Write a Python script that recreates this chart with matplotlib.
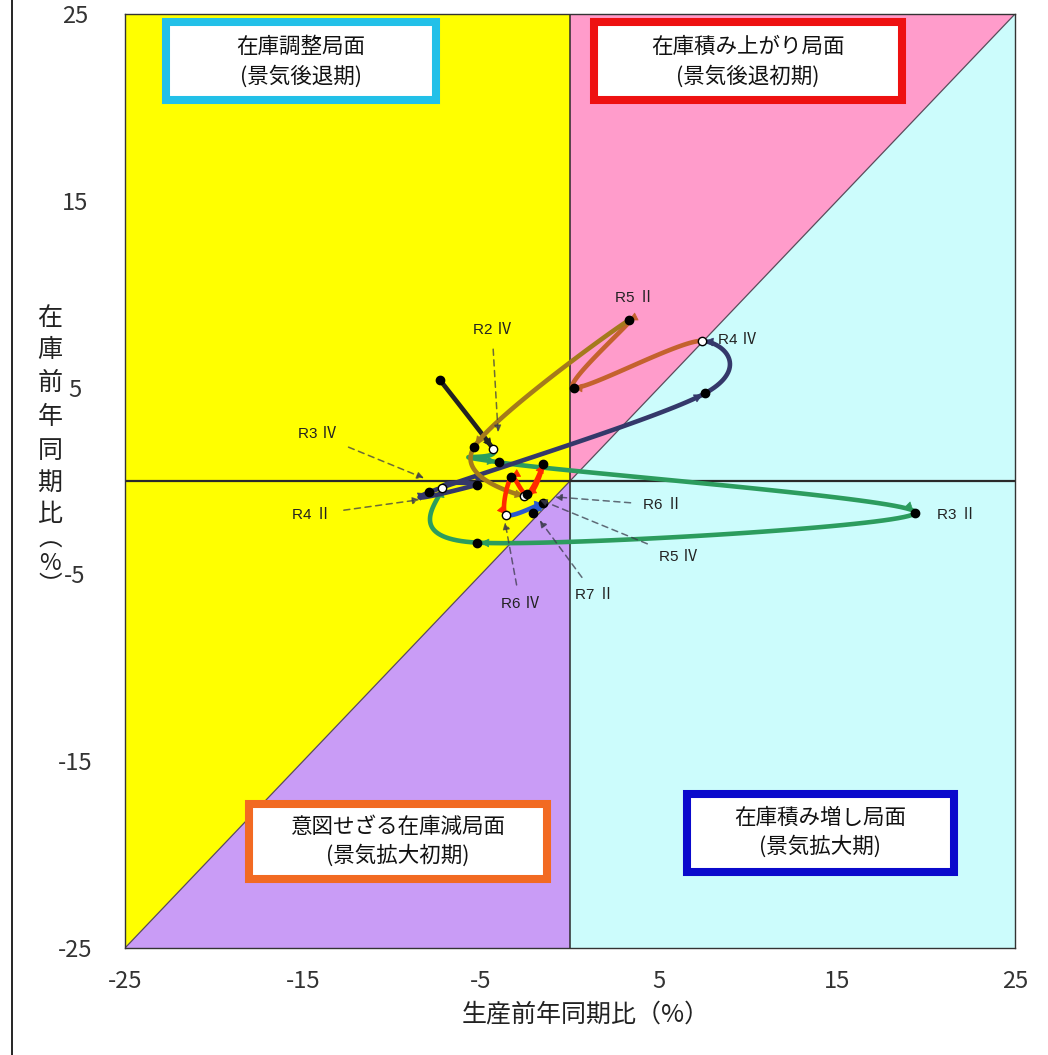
import numpy as np
import matplotlib
matplotlib.use("Agg")
import matplotlib.pyplot as plt
from matplotlib.patches import Polygon, Rectangle
from matplotlib.lines import Line2D

plt.rcParams['font.family'] = ['Noto Sans CJK JP', 'DejaVu Sans']

# ---- data ----
quarters = ["R2Ⅲ", "R2Ⅳ", "R3Ⅰ", "R3Ⅱ", "R3Ⅲ", "R3Ⅳ", "R4Ⅰ", "R4Ⅱ", "R4Ⅲ", "R4Ⅳ",
            "R5Ⅰ", "R5Ⅱ", "R5Ⅲ", "R5Ⅳ", "R6Ⅰ", "R6Ⅱ", "R6Ⅲ", "R6Ⅳ", "R7Ⅰ", "R7Ⅱ"]
production = [-7.3, -4.3, -4.0, 19.4, -5.2, -7.2, -5.2, -7.9, 7.6, 7.4,
              0.2, 3.3, -5.4, -2.6, -1.5, -2.4, -3.3, -3.6, -1.5, -2.1]
inventory = [5.4, 1.7, 1.0, -1.7, -3.3, -0.4, -0.2, -0.6, 4.7, 7.5,
             5.0, 8.6, 1.8, -0.8, 0.9, -0.7, 0.2, -1.8, -1.2, -1.7]
ticks = [-25, -15, -5, 5, 15, 25]

phase_titles = ["在庫調整局面", "在庫積み上がり局面", "意図せざる在庫減局面", "在庫積み増し局面"]
phase_subtitles = ["(景気後退期)", "(景気後退初期)", "(景気拡大初期)", "(景気拡大期)"]

# ---- styles ----
C_BLACK, C_GREEN, C_NAVY, C_SIENNA, C_BROWN, C_RED, C_BLUE = (
    '#222222', '#2C9C5E', '#34386A', '#C4622E', '#A47A1C', '#FF2A00', '#2A5AD0')
seg_colors = ([C_BLACK] + [C_GREEN] * 4 + [C_NAVY] * 4 + [C_SIENNA] * 2 +
              [C_BROWN] * 2 + [C_RED] * 4 + [C_BLUE] * 2)

W, H = 1048, 1055
fig = plt.figure(figsize=(W / 100, H / 100), dpi=100)
ax = fig.add_axes([125 / W, 1 - 948 / H, 890 / W, 934 / H])
ax.set_xlim(-25, 25)
ax.set_ylim(-25, 25)

# background regions
ax.add_patch(Polygon([(-25, -25), (-25, 25), (0, 25), (0, 0)], closed=True, fc='#FFFF00', ec='none', zorder=0))
ax.add_patch(Polygon([(-25, -25), (0, 0), (0, -25)], closed=True, fc='#C99CF6', ec='none', zorder=0))
ax.add_patch(Polygon([(0, 0), (0, 25), (25, 25)], closed=True, fc='#FF9CCB', ec='none', zorder=0))
ax.add_patch(Polygon([(0, 0), (25, 25), (25, -25), (0, -25)], closed=True, fc='#CCFCFC', ec='none', zorder=0))
ax.plot([-25, 25], [-25, 25], color='#5a4a5a', lw=0.9, zorder=1)
ax.axhline(0, color='#2a2a2a', lw=1.6, zorder=1)
ax.axvline(0, color='#2a2a2a', lw=1.1, zorder=1)

# phase boxes
boxes = [((-22.70, 20.40), 15.17, 4.17, '#22C0E8', (-15.11, 22.48)),
         ((1.35, 20.40), 17.30, 4.17, '#EE1111', (10.0, 22.48)),
         ((-18.03, -21.31), 16.74, 4.02, '#F26A22', (-9.66, -19.27)),
         ((6.57, -20.93), 15.0, 4.17, '#0A0ACC', (14.04, -18.79))]
for (xy, w, h, ec, c), t1, t2 in zip(boxes, phase_titles, phase_subtitles):
    ax.add_patch(Rectangle(xy, w, h, fc='white', ec=ec, lw=5.8, zorder=5))
    ax.text(c[0], c[1] + 0.74, t1, ha='center', va='center', fontsize=15.5, color='#111111', zorder=6)
    ax.text(c[0], c[1] - 0.80, t2, ha='center', va='center', fontsize=15.5, color='#111111', zorder=6)


# smoothed path (Bezier through the points, Excel-like smoothing)
def smooth_segments(xs, ys, n=40):
    P = np.column_stack([xs, ys]).astype(float)
    N = len(P)
    out = []
    t = np.linspace(0, 1, n)[:, None]
    for i in range(N - 1):
        p0 = P[i - 1] if i > 0 else P[i]
        p1, p2 = P[i], P[i + 1]
        p3 = P[i + 2] if i + 2 < N else P[i + 1]
        c1 = p1 + (p2 - p0) / 6
        c2 = p2 - (p3 - p1) / 6
        B = (1 - t) ** 3 * p1 + 3 * (1 - t) ** 2 * t * c1 + 3 * (1 - t) * t ** 2 * c2 + t ** 3 * p2
        out.append(B)
    return out


segs = smooth_segments(production, inventory)
for seg, col in zip(segs, seg_colors):
    ax.plot(seg[:, 0], seg[:, 1], color=col, lw=3.3, solid_capstyle='round', zorder=3)
    ax.annotate('', xy=seg[-1], xytext=seg[-3],
                arrowprops=dict(arrowstyle='-|>', color=col, lw=0.5, mutation_scale=14,
                                shrinkA=0, shrinkB=2), zorder=3)

is_q4 = [q.endswith("Ⅳ") for q in quarters]
for xv, yv, q4 in zip(production, inventory, is_q4):
    ax.plot(xv, yv, 'o', ms=6, mfc='white' if q4 else 'black', mec='black', mew=1.0, zorder=4)

# point labels
lab_kw = dict(fontsize=11, color='#222222', family=['Liberation Sans', 'Noto Sans CJK JP'], zorder=7)
lead = dict(arrowstyle='-|>', linestyle=(0, (4, 3)), color='#3a3a4a', lw=1.1, mutation_scale=10, alpha=0.75)
labels = [
    ("R2 Ⅳ", (-4.38, 8.1), (-4.04, 2.6)),
    ("R3 Ⅳ", (-14.2, 2.5), (-8.2, 0.15)),
    ("R4 Ⅱ", (-14.5, -1.8), (-8.45, -1.0)),
    ("R6 Ⅱ", (5.2, -1.3), (-0.85, -0.85)),
    ("R5 Ⅳ", (6.1, -4.05), (-1.7, -1.0)),
    ("R6 Ⅳ", (-2.8, -6.6), (-3.65, -2.2)),
    ("R7 Ⅱ", (1.4, -6.1), (-1.7, -2.1)),
]
for txt, xyt, xy in labels:
    ax.annotate(txt, xy=xy, xytext=xyt, ha='center', va='center',
                arrowprops=dict(lead, shrinkA=7, shrinkB=0), **lab_kw)
ax.text(3.65, 9.8, "R5 Ⅱ", ha='center', va='center', **lab_kw)
ax.text(8.3, 7.55, "R4 Ⅳ", ha='left', va='center', **lab_kw)
ax.text(20.6, -1.8, "R3 Ⅱ", ha='left', va='center', **lab_kw)

# axes styling
ax.set_xticks(ticks)
ax.set_yticks(ticks)
ax.set_xticklabels([str(v) for v in ticks])
ax.set_yticklabels([str(v) for v in ticks], ha='center')
ax.tick_params(length=0, labelsize=17, labelcolor='#333333')
ax.tick_params(axis='y', pad=36)
ax.tick_params(axis='x', pad=16)
for s in ax.spines.values():
    s.set_color('#333333')
    s.set_linewidth(1.0)
    s.set_zorder(8)

fig.text(586 / W, 1 - 1015 / H, "生産前年同期比（%）", ha='center', va='center', fontsize=18, color='#222222')
ychars = ["在", "庫", "前", "年", "同", "期", "比"]
ypos = [318, 350, 383, 417, 451, 483, 514]
for ch, yp in zip(ychars, ypos):
    fig.text(50 / W, 1 - yp / H, ch, ha='center', va='center', fontsize=18, color='#222222')
fig.text(50 / W, 1 - 563 / H, "︵\n%\n︶", ha='center', va='center', fontsize=17,
         color='#222222', linespacing=1.0)

fig.add_artist(Line2D([12 / W, 12 / W], [0, 1], color='black', lw=1.2))

fig.savefig('out.png', dpi=100)
